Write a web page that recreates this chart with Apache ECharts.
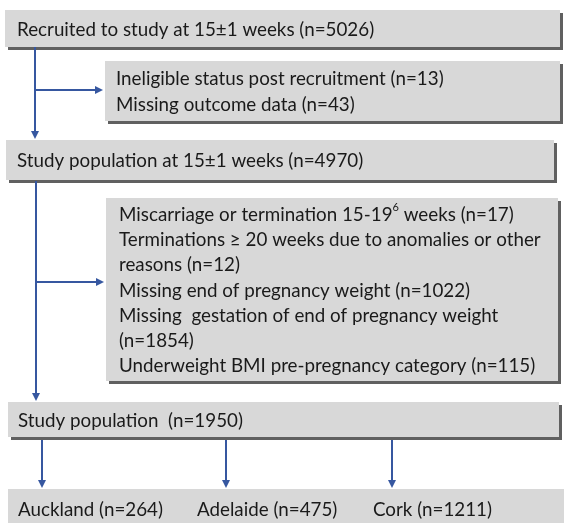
<!DOCTYPE html>
<html><head><meta charset="utf-8">
<script src="https://cdn.jsdelivr.net/npm/echarts@6/dist/echarts.min.js"></script>
<style>html,body{margin:0;padding:0;background:#fff}#c{width:564px;height:523px}</style>
</head><body><div id="c"></div>
<script>
// ---- data ----
const stageLabels = ['Recruited to study at 15\u00b11 weeks', 'Study population at 15\u00b11 weeks', 'Study population '];
const stageN = [5026, 4970, 1950];
const exclusion1Labels = ['Ineligible status post recruitment', 'Missing outcome data'];
const exclusion1N = [13, 43];
const exclusion2Labels = ['Miscarriage or termination 15-19{sup|6} weeks', 'Terminations \u2265 20 weeks due to anomalies or other\nreasons', 'Missing end of pregnancy weight', 'Missing  gestation of end of pregnancy weight\n', 'Underweight BMI pre-pregnancy category'];
const exclusion2N = [17, 12, 1022, 1854, 115];
const siteLabels = ['Auckland', 'Adelaide', 'Cork'];
const siteN = [264, 475, 1211];

// ---- layout (pixel space of a hidden 564x523 cartesian) ----
const FONT = 'Lato';
const FS = 18.8;
const LH = 25.2;
const boxes = [
  {x0: 5, y0: 10, x1: 560, y1: 47, tx: 17, text: stageLabels[0] + ' (n=' + stageN[0] + ')'},
  {x0: 105, y0: 61, x1: 560, y1: 121, tx: 116, text: exclusion1Labels.map((l, i) => l + ' (n=' + exclusion1N[i] + ')').join('\n')},
  {x0: 6, y0: 140, x1: 554, y1: 180, tx: 17, text: stageLabels[1] + ' (n=' + stageN[1] + ')'},
  {x0: 106, y0: 198, x1: 558, y1: 381, tx: 119, text: exclusion2Labels.map((l, i) => l + (l.endsWith('\n') ? '' : ' ') + '(n=' + exclusion2N[i] + ')').join('\n')},
  {x0: 8, y0: 402, x1: 559, y1: 437, tx: 18, text: stageLabels[2] + ' (n=' + stageN[2] + ')'},
  {x0: 8, y0: 489, x1: 570, y1: 535, tx: null, text: ''}
];
const siteTextX = [18, 197, 373];
const siteTextY = 510;
const arrows = [
  {pts: [[35, 47], [35, 139]]},
  {pts: [[35, 90], [103, 90]]},
  {pts: [[36, 181], [36, 401]]},
  {pts: [[36, 282], [104, 282]]},
  {pts: [[42, 440], [42, 488]]},
  {pts: [[226, 440], [226, 488]]},
  {pts: [[392, 440], [392, 488]]}
];
const ARROW_COLOR = '#3657a0';
const FILL = '#d8d8d8';
const SHADOW = '#606060';

const chart = echarts.init(document.getElementById('c'), null, {renderer: 'canvas'});

function arrowShapes(api, a) {
  const p = a.pts.map(q => api.coord(q));
  const els = [];
  const s = p[0], e = p[p.length - 1];
  const dx = e[0] - s[0], dy = e[1] - s[1];
  const len = Math.hypot(dx, dy), ux = dx / len, uy = dy / len;
  const hl = 8, hw = 4;
  const be = [e[0] - ux * hl, e[1] - uy * hl];
  els.push({type: 'line', shape: {x1: s[0], y1: s[1], x2: be[0] + ux, y2: be[1] + uy}, style: {stroke: ARROW_COLOR, lineWidth: 2}});
  els.push({type: 'polygon', shape: {points: [e, [be[0] - uy * hw, be[1] + ux * hw], [be[0] + uy * hw, be[1] - ux * hw]]}, style: {fill: ARROW_COLOR}});
  return els;
}

function textStyleBase() {
  return {fontFamily: FONT, fontSize: FS, fill: '#1a1a1a', lineHeight: LH,
    rich: {sup: {fontFamily: FONT, fontSize: 11, verticalAlign: 'top', padding: [0, 0, 8, 0], fill: '#1a1a1a', lineHeight: LH}}};
}

const option = {
  animation: false,
  grid: {left: 0, right: 0, top: 0, bottom: 0},
  xAxis: {type: 'value', min: 0, max: 564, show: false},
  yAxis: {type: 'value', min: 0, max: 523, inverse: true, show: false},
  series: [
    {
      type: 'custom',
      coordinateSystem: 'cartesian2d',
      data: boxes.map((b, i) => [b.x0, b.y0, b.x1, b.y1, i]),
      clip: false,
      renderItem: function (params, api) {
        const i = api.value(4);
        const b = boxes[i];
        const p0 = api.coord([b.x0, b.y0]);
        const p1 = api.coord([b.x1, b.y1]);
        const w = p1[0] - p0[0], h = p1[1] - p0[1];
        const children = [
          {type: 'rect', shape: {x: p0[0] + 3, y: p0[1] + 3, width: w, height: h}, style: {fill: SHADOW}},
          {type: 'rect', shape: {x: p0[0], y: p0[1], width: w, height: h}, style: {fill: FILL}}
        ];
        if (b.text) {
          const t = textStyleBase();
          t.text = b.text;
          const tp = api.coord([b.tx, (b.y0 + b.y1) / 2]);
          t.x = tp[0]; t.y = tp[1] + 1; t.verticalAlign = 'middle'; t.align = 'left';
          children.push({type: 'text', style: t});
        }
        if (i === 5) {
          siteLabels.forEach((l, k) => {
            const tp = api.coord([siteTextX[k], siteTextY]);
            const t = textStyleBase();
            t.text = l + ' (n=' + siteN[k] + ')';
            t.x = tp[0]; t.y = tp[1]; t.verticalAlign = 'middle'; t.align = 'left';
            children.push({type: 'text', style: t});
          });
        }
        return {type: 'group', children: children};
      }
    },
    {
      type: 'custom',
      coordinateSystem: 'cartesian2d',
      data: arrows.map((a, i) => [a.pts[0][0], a.pts[0][1], i]),
      clip: false,
      z: 5,
      renderItem: function (params, api) {
        const a = arrows[api.value(2)];
        return {type: 'group', children: arrowShapes(api, a)};
      }
    }
  ]
};
chart.setOption(option);
</script></body></html>
